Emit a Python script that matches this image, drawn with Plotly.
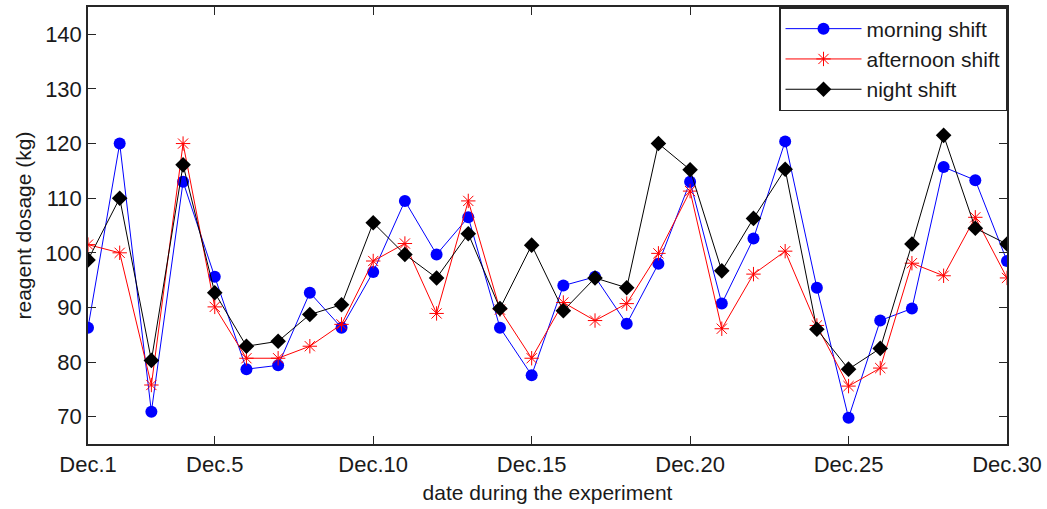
import plotly.graph_objects as go

days = list(range(1, 31))
tick_days = [1, 5, 10, 15, 20, 25, 30]
tick_labels = ["Dec.%d" % d for d in tick_days]
y_ticks = [70, 80, 90, 100, 110, 120, 130, 140]

morning = [86.3, 120.0, 70.9, 113.0, 95.6, 78.7, 79.4, 92.7, 86.3, 96.5,
           109.5, 99.7, 106.5, 86.3, 77.6, 94.0, 95.6, 87.0, 98.0, 113.0,
           90.7, 102.6, 120.4, 93.6, 69.8, 87.6, 89.8, 115.7, 113.3, 98.5]
afternoon = [101.5, 100.0, 75.8, 120.0, 90.1, 80.7, 80.7, 82.9, 86.9, 98.5,
             101.7, 88.9, 109.5, 89.6, 80.7, 90.9, 87.6, 90.7, 99.9, 111.3,
             86.1, 96.1, 100.3, 86.7, 75.6, 78.9, 98.1, 95.8, 106.5, 95.4]
night = [98.7, 110.0, 80.3, 116.1, 92.7, 82.9, 83.8, 88.7, 90.5, 105.5,
         99.7, 95.4, 103.5, 89.8, 101.4, 89.4, 95.4, 93.6, 120.0, 115.2,
         96.7, 106.3, 115.3, 86.0, 78.7, 82.5, 101.6, 121.5, 104.5, 101.6]

FONT = "Liberation Sans, Arial, sans-serif"

fig = go.Figure()
fig.add_trace(go.Scatter(x=days, y=morning, mode="lines+markers", name="morning shift",
                         line=dict(color="#0000FF", width=1),
                         marker=dict(symbol="circle", size=12, color="#0000FF")))
fig.add_trace(go.Scatter(x=days, y=afternoon, mode="lines+markers", name="afternoon shift",
                         line=dict(color="#FF0000", width=1),
                         marker=dict(symbol="asterisk-open", size=12, color="#FF0000",
                                     line=dict(color="#FF0000", width=1))))
fig.add_trace(go.Scatter(x=days, y=night, mode="lines+markers", name="night shift",
                         line=dict(color="#000000", width=1),
                         marker=dict(symbol="diamond", size=12, color="#000000")))

axis_common = dict(showgrid=False, zeroline=False, showline=True, linecolor="#262626",
                   linewidth=1.5, mirror="ticks", ticks="inside", ticklen=8,
                   tickcolor="#262626", tickfont=dict(family=FONT, size=22, color="#1a1a1a"))

fig.update_layout(
    width=1047, height=509,
    margin=dict(l=88, r=40, t=5, b=65),
    paper_bgcolor="white", plot_bgcolor="white",
    font=dict(family=FONT, color="#1a1a1a"),
    xaxis=dict(range=[1, 30], tickvals=tick_days, ticktext=tick_labels,
               title=dict(text="date during the experiment", font=dict(size=21), standoff=9),
               **axis_common),
    yaxis=dict(range=[65, 145], tickvals=y_ticks,
               title=dict(text="reagent dosage (kg)", font=dict(size=21), standoff=8),
               **axis_common),
    legend=dict(x=1, y=1, xanchor="right", yanchor="top", bgcolor="white",
                bordercolor="#262626", borderwidth=1.5, itemwidth=76,
                font=dict(family=FONT, size=21, color="#1a1a1a"),
                tracegroupgap=0),
    showlegend=True,
)

fig.write_html("out.html", config={"displayModeBar": False},
               post_script="document.body.style.margin='0';")
